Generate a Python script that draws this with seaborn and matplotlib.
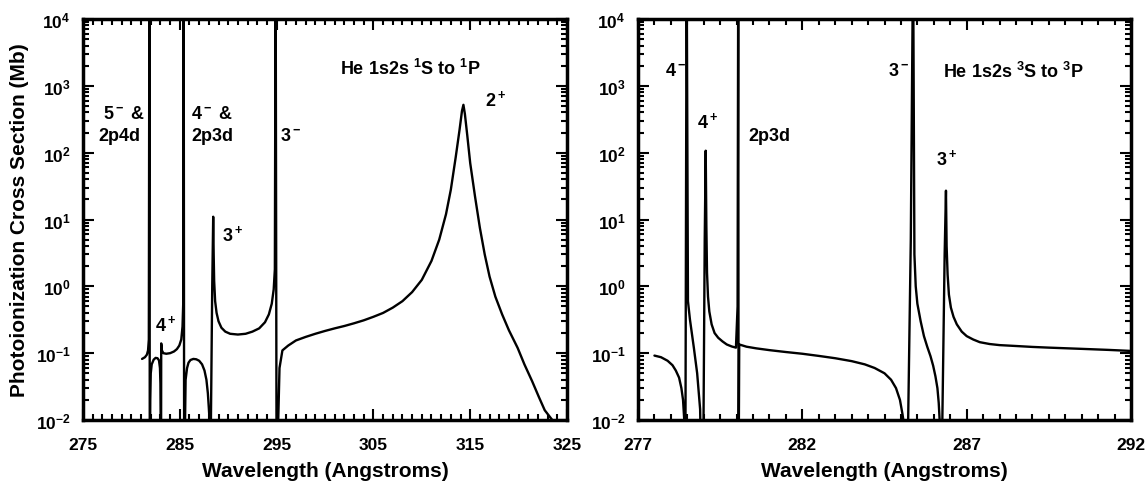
import numpy as np
import matplotlib.pyplot as plt
import seaborn as sns
from matplotlib.ticker import FixedLocator, FixedFormatter, LogLocator, MultipleLocator

# He 1s2s 1S -> 1P photoionization cross section (Mb)
# 1e5 / 1e-3 stand for resonances that run off the top / bottom of the axes
wl_singlet = [281.1, 281.4, 281.6, 281.72, 281.8, 281.86, 281.9, 281.95, 282.0, 282.1,
              282.3, 282.5, 282.7, 282.85, 282.95, 283.0, 283.03, 283.06, 283.08, 283.15,
              283.3, 283.6, 284.0, 284.4, 284.7, 284.95, 285.15, 285.28, 285.36, 285.4,
              285.45, 285.6, 285.75, 285.9, 286.1, 286.4, 286.7, 287.0, 287.3, 287.55,
              287.75, 287.9, 288.0, 288.08, 288.15, 288.35, 288.45, 288.5, 288.55, 288.65,
              288.8, 289.0, 289.3, 289.7, 290.2, 291.0, 291.8, 292.5, 293.2, 293.8,
              294.2, 294.5, 294.7, 294.82, 294.9, 295.0, 295.3, 295.6, 296.2, 297.0,
              298.0, 299.0, 300.0, 301.0, 302.0, 303.0, 304.0, 305.0, 306.0, 307.0,
              308.0, 309.0, 310.0, 311.0, 311.8, 312.5, 313.0, 313.5, 313.9, 314.15,
              314.3, 314.45, 314.7, 315.0, 315.5, 316.0, 316.5, 317.0, 317.6, 318.3,
              319.0, 319.9, 320.6, 321.4, 322.1, 322.7, 323.6]
xs_singlet = [0.082, 0.087, 0.095, 0.11, 0.16, 1e5, 1e-3, 0.02, 0.05, 0.068,
              0.08, 0.085, 0.084, 0.078, 0.06, 0.035, 0.0095, 1e-3, 0.14, 0.11,
              0.1, 0.098, 0.1, 0.106, 0.115, 0.13, 0.16, 0.25, 0.6, 1e5,
              1e-3, 0.04, 0.06, 0.072, 0.079, 0.082, 0.081, 0.077, 0.068, 0.055,
              0.04, 0.025, 0.015, 0.0095, 1e-3, 1.0, 11, 3, 1.2, 0.6,
              0.4, 0.3, 0.24, 0.21, 0.195, 0.19, 0.195, 0.21, 0.235, 0.29,
              0.38, 0.55, 0.9, 1.8, 1e5, 1e-3, 0.06, 0.11, 0.13, 0.155,
              0.175, 0.195, 0.215, 0.235, 0.255, 0.28, 0.31, 0.35, 0.4, 0.48,
              0.6, 0.82, 1.25, 2.4, 5, 12, 28, 85, 220, 420,
              520, 380, 180, 70, 22, 7.5, 3.0, 1.4, 0.7, 0.38,
              0.22, 0.12, 0.068, 0.038, 0.022, 0.014, 0.0095]

# He 1s2s 3S -> 3P
wl_triplet = [277.5, 277.7, 277.9, 278.05, 278.15, 278.25, 278.32, 278.37, 278.41, 278.44,
              278.48, 278.52, 278.58, 278.7, 278.8, 278.89, 278.93, 278.98, 279.03, 279.06,
              279.08, 279.1, 279.13, 279.17, 279.24, 279.33, 279.44, 279.57, 279.7, 279.85,
              279.98, 280.03, 280.05, 280.06, 280.08, 280.3, 280.6, 281.0, 281.5, 282.0,
              282.5, 283.0, 283.5, 283.9, 284.2, 284.5, 284.7, 284.85, 284.97, 285.05,
              285.08, 285.15, 285.22, 285.3, 285.37, 285.41, 285.45, 285.5, 285.6, 285.7,
              285.8, 285.9, 285.98, 286.05, 286.11, 286.15, 286.18, 286.21, 286.26, 286.33,
              286.37, 286.39, 286.42, 286.46, 286.52, 286.6, 286.7, 286.85, 287.0, 287.2,
              287.4, 287.7, 288.0, 288.5, 289.0, 289.5, 290.5, 291.3, 292.0]
xs_triplet = [0.092, 0.087, 0.077, 0.066, 0.055, 0.043, 0.03, 0.02, 0.0095, 1e-3,
              1e5, 0.6, 0.32, 0.12, 0.05, 0.0145, 1e-3, 1e-3, 5, 107,
              8, 1.6, 0.7, 0.42, 0.27, 0.2, 0.17, 0.15, 0.135, 0.126,
              0.121, 0.5, 1e5, 1e-3, 0.135, 0.125, 0.118, 0.111, 0.104, 0.098,
              0.091, 0.084, 0.076, 0.068, 0.06, 0.05, 0.04, 0.03, 0.02, 0.012,
              0.0095, 1e-3, 0.01, 5, 1e5, 3, 1.0, 0.55, 0.3, 0.18,
              0.125, 0.09, 0.065, 0.045, 0.03, 0.018, 0.0095, 1e-3, 0.01, 3,
              27, 4, 1.5, 0.75, 0.48, 0.35, 0.27, 0.21, 0.18, 0.16,
              0.146, 0.137, 0.132, 0.128, 0.124, 0.121, 0.116, 0.112, 0.108]

y_ticks = [1e-2, 1e-1, 1e0, 1e1, 1e2, 1e3, 1e4]
y_tick_labels = ["$10^{-2}$", "$10^{-1}$", "$10^{0}$", "$10^{1}$",
                 "$10^{2}$", "$10^{3}$", "$10^{4}$"]
x_ticks_singlet = [275, 285, 295, 305, 315, 325]
x_ticks_triplet = [277, 282, 287, 292]

sns.set_style("ticks")
plt.rcParams['font.family'] = ['Liberation Sans', 'DejaVu Sans']
plt.rcParams['font.weight'] = 'bold'
plt.rcParams['mathtext.fontset'] = 'custom'
plt.rcParams['mathtext.rm'] = 'Liberation Sans:bold'
plt.rcParams['mathtext.it'] = 'Liberation Sans:bold'
plt.rcParams['mathtext.bf'] = 'Liberation Sans:bold'
plt.rcParams['mathtext.default'] = 'rm'
for k in ['text.color', 'axes.labelcolor', 'xtick.color', 'ytick.color', 'axes.edgecolor']:
    plt.rcParams[k] = 'black'

fig = plt.figure(figsize=(11.46, 4.89), dpi=100)
ax1 = fig.add_axes([83 / 1146, 68 / 489, 484 / 1146, 401 / 489])
ax2 = fig.add_axes([638 / 1146, 68 / 489, 493 / 1146, 401 / 489])

sns.lineplot(x=wl_singlet, y=xs_singlet, ax=ax1, color='black', lw=1.7,
             sort=False, estimator=None)
sns.lineplot(x=wl_triplet, y=xs_triplet, ax=ax2, color='black', lw=1.7,
             sort=False, estimator=None)

for ax in (ax1, ax2):
    ax.set_yscale('log')
    ax.set_ylim(1e-2, 1e4)
    ax.yaxis.set_major_locator(FixedLocator(y_ticks))
    ax.yaxis.set_major_formatter(FixedFormatter(y_tick_labels))
    ax.yaxis.set_minor_locator(LogLocator(base=10, subs=np.arange(2, 10), numticks=20))
    ax.tick_params(which='both', direction='in', top=True, right=True,
                   width=1.5, labelsize=12.5)
    ax.tick_params(which='major', length=8, pad=9)
    ax.tick_params(which='minor', length=4)
    ax.tick_params(axis='x', which='major', pad=12)
    for s in ax.spines.values():
        s.set_linewidth(2.5)
    ax.set_xlabel('Wavelength (Angstroms)', fontsize=15, fontweight='bold', labelpad=7)

ax1.set_xlim(275, 325)
ax1.xaxis.set_major_locator(FixedLocator(x_ticks_singlet))
ax1.xaxis.set_minor_locator(MultipleLocator(1))
ax1.set_ylabel('Photoionization Cross Section (Mb)', fontsize=15,
               fontweight='bold', labelpad=5)

ax2.set_xlim(277, 292)
ax2.xaxis.set_major_locator(FixedLocator(x_ticks_triplet))
ax2.xaxis.set_minor_locator(MultipleLocator(0.5))
ax2.set_ylabel('')

lab = dict(fontsize=13, fontweight='bold', va='center', ha='left')
ax1.text(301.5, 10**3.27, 'He 1s2s $^1$S to $^1$P', **lab)
ax1.text(316.5, 10**2.8, '$2^+$', **lab)
ax1.text(277.1, 10**2.59, '$5^-$ &', **lab)
ax1.text(276.6, 10**2.26, '2p4d', **lab)
ax1.text(286.2, 10**2.59, '$4^-$ &', **lab)
ax1.text(286.2, 10**2.26, '2p3d', **lab)
ax1.text(295.4, 10**2.26, '$3^-$', **lab)
ax1.text(289.4, 10**0.78, '$3^+$', **lab)
ax1.text(282.4, 10**-0.57, '$4^+$', **lab)

ax2.text(277.82, 10**3.23, '$4^-$', **lab)
ax2.text(278.8, 10**2.47, '$4^+$', **lab)
ax2.text(280.35, 10**2.25, '2p3d', **lab)
ax2.text(284.6, 10**3.23, '$3^-$', **lab)
ax2.text(286.28, 10**3.23, 'He 1s2s $^3$S to $^3$P', **lab)
ax2.text(286.07, 10**1.92, '$3^+$', **lab)

fig.savefig('out.png', dpi=100)
